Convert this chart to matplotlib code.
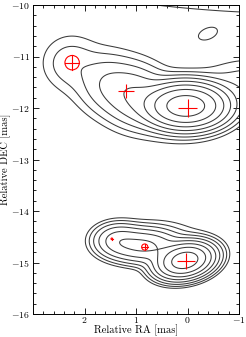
import numpy as np
import matplotlib
matplotlib.use("Agg")
import matplotlib.pyplot as plt
from matplotlib.patches import Ellipse
from matplotlib.ticker import MultipleLocator, FuncFormatter

plt.rcParams['mathtext.fontset'] = 'cm'
plt.rcParams['font.family'] = 'serif'

# ---- model Gaussian components (RA [mas], Dec [mas], peak, sigma_major, sigma_minor, angle [deg]) ----
comp_ra    = [0.03, 1.05, 1.60, 2.28, 1.00, -1.20, -2.50, -0.38,   0.05, 0.83, 1.35, 0.50]
comp_dec   = [-11.96, -11.75, -11.50, -11.12, -11.80, -11.55, -8.50, -10.58,   -14.96, -14.68, -14.57, -14.50]
comp_peak  = [200.0, 13.0, 4.5, 2.6, 2.5, 3.0, 4.05, 0.9,   200.0, 35.0, 20.0, 1.5]
comp_sx    = [0.38, 0.35, 0.30, 0.32, 0.90, 0.60, 4.20, 0.20,   0.27, 0.35, 0.25, 0.60]
comp_sy    = [0.21, 0.30, 0.30, 0.30, 0.45, 0.30, 1.00, 0.11,   0.16, 0.17, 0.17, 0.25]
comp_ang   = [0, 21, 21, 0, 21, 0, 0, -20,   -12, 0, 0, 0]

contour_levels = [1, 2, 4, 8, 16, 32, 64, 128]

# ---- fitted component markers ----
cross_ra   = [0.00, 1.19, 0.03]
cross_dec  = [-12.00, -11.67, -14.97]
cross_xerr = [0.19, 0.16, 0.175]
cross_yerr = [0.17, 0.145, 0.16]

circ_ra    = [2.24, 0.83, 1.47]
circ_dec   = [-11.12, -14.70, -14.54]
circ_size  = [0.28, 0.12, 0.03]

xticks = [2, 1, 0, -1]
yticks = [-10, -11, -12, -13, -14, -15, -16]

fig = plt.figure(figsize=(2.46, 3.37), dpi=100)
ax = fig.add_axes([33/246, 1-315/337, 206/246, 311/337])

ra = np.linspace(3.3, -1.5, 700)
dec = np.linspace(-16.3, -9.5, 900)
X, Y = np.meshgrid(ra, dec)
Z = np.zeros_like(X)
for x0, y0, p, sx, sy, a in zip(comp_ra, comp_dec, comp_peak, comp_sx, comp_sy, comp_ang):
    t = np.deg2rad(a)
    dx = X - x0
    dy = Y - y0
    u = dx*np.cos(t) + dy*np.sin(t)
    v = -dx*np.sin(t) + dy*np.cos(t)
    Z += p*np.exp(-0.5*(u**2/sx**2 + v**2/sy**2))

ax.contour(X, Y, Z, levels=contour_levels, colors='#3a3a3a', linewidths=0.75)

ax.errorbar(cross_ra, cross_dec, xerr=cross_xerr, yerr=cross_yerr, fmt='none',
            ecolor='red', elinewidth=0.8, capsize=0, zorder=5)
for x0, y0, s in zip(circ_ra, circ_dec, circ_size):
    ax.add_patch(Ellipse((x0, y0), s, s, fill=False, edgecolor='red', lw=0.8, zorder=5))
    ax.plot([x0 - s/2, x0 + s/2], [y0, y0], color='red', lw=0.8, zorder=5)
    ax.plot([x0, x0], [y0 - s/2, y0 + s/2], color='red', lw=0.8, zorder=5)

ax.set_xlim(3, -1)
ax.set_ylim(-16, -10)
ax.set_aspect('equal')
ax.set_xticks(xticks)
ax.set_yticks(yticks)
ax.xaxis.set_minor_locator(MultipleLocator(0.2))
ax.yaxis.set_minor_locator(MultipleLocator(0.2))
fmt = FuncFormatter(lambda v, p: r'$%d$' % round(v))
ax.xaxis.set_major_formatter(fmt)
ax.yaxis.set_major_formatter(fmt)
ax.tick_params(which='both', direction='in', top=True, right=True, labelsize=7, width=0.6)
ax.tick_params(axis='x', which='both', pad=0.6)
ax.tick_params(axis='y', which='both', pad=2)
ax.tick_params(which='major', length=4.3)
ax.tick_params(which='minor', length=2.2)
for s in ax.spines.values():
    s.set_linewidth(0.7)
ax.set_xlabel('Relative RA [mas]', fontsize=7.6, fontfamily='cmr10')
ax.set_ylabel('Relative DEC [mas]', fontsize=7.6, fontfamily='cmr10')
ax.xaxis.set_label_coords(0.5, -0.035)
ax.yaxis.set_label_coords(-0.108, 0.5)

fig.savefig('out.png', dpi=100)
